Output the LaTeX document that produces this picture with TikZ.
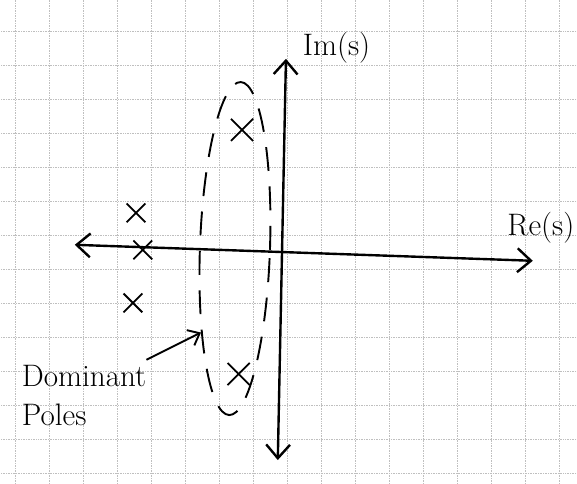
\documentclass[tikz,border=0pt]{standalone}
\usetikzlibrary{arrows.meta,shapes.misc,shapes.geometric}
\begin{document}
\begin{tikzpicture}
    \tikzset{
        gridline/.style={draw=gray!50, densely dotted, line width=0.4pt},
        axis/.style={line width=2pt, {Straight Barb[length=4mm,width=7mm]}-{Straight Barb[length=4mm,width=7mm]}},
        pointer/.style={line width=1.6pt, -{Straight Barb[length=3mm,width=5mm]}},
        pole/.style={draw, cross out, minimum size=0.5cm, inner sep=0pt, line width=1.5pt},
        region/.style={draw, ellipse, dash pattern=on 20pt off 13pt, line width=1.6pt,
            minimum width=2.06cm, minimum height=9.8cm, inner sep=0pt, rotate=-2},
        hand/.style={font=\fontsize{26}{33}\selectfont, inner sep=0pt}
    }
    \useasboundingbox (-8.32,-6.88) rectangle (8.65,7.35);
    \clip (-8.32,-6.88) rectangle (8.65,7.35);
    % graph paper
    \draw[gridline, xshift=0.12cm, yshift=0.44cm] (-9,-8) grid (9,8);

    % axes
    \coordinate (top) at (0.09,5.62);
    \coordinate (bot) at (-0.15,-6.18);
    \coordinate (left) at (-6.12,0.15);
    \coordinate (right) at (7.35,-0.32);
    \draw[axis] (bot) -- (top);
    \draw[axis] (left) -- (right);
    \node[hand, anchor=west] (im) at (0.58,5.94) {Im(s)};
    \node[hand, anchor=east] (re) at (8.58,0.65) {Re(s)};

    % poles
    \node[pole] (p1) at (-4.32,1.09) {};
    \node[pole] (p2) at (-4.12,0.0) {};
    \node[pole] (p3) at (-4.41,-1.56) {};
    \node[pole, minimum size=0.6cm] (p4) at (-1.2,3.53) {};
    \node[pole, minimum size=0.6cm] (p5) at (-1.3,-3.65) {};

    % dominant pair
    \node[region] (dom) at (-1.41,0.04) {};
    \node[hand, align=left, anchor=north west] (lbl) at (-7.68,-3.38) {Dominant\\Poles};
    \draw[pointer] ([yshift=0.15cm]lbl.north east) -- (dom.250);
\end{tikzpicture}
\end{document}
